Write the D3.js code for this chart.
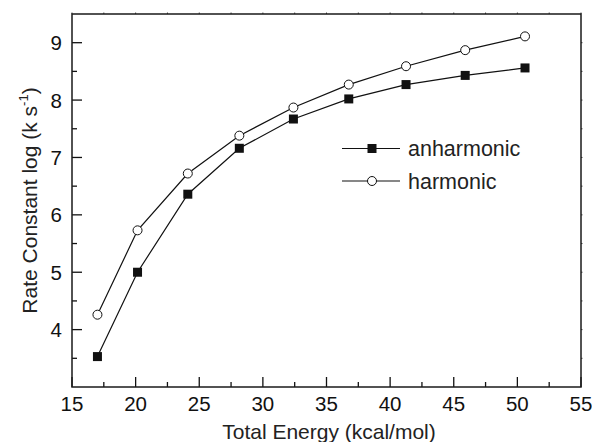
<!DOCTYPE html>
<html>
<head>
<meta charset="utf-8">
<script src="https://cdn.jsdelivr.net/npm/d3@7/dist/d3.min.js"></script>
<style>
  html, body { margin: 0; padding: 0; background: #fff; }
  svg { display: block; font-family: "Liberation Sans", Arial, sans-serif; }
</style>
</head>
<body>
<svg id="chart" width="592" height="442"></svg>
<script>
// Data
const energy = [17.0, 20.15, 24.1, 28.15, 32.4, 36.75, 41.25, 45.9, 50.6];
const anharmonic = [3.53, 5.0, 6.36, 7.16, 7.67, 8.02, 8.27, 8.43, 8.56];
const harmonic = [4.26, 5.73, 6.72, 7.38, 7.87, 8.27, 8.59, 8.87, 9.11];
const xTicks = [15, 20, 25, 30, 35, 40, 45, 50, 55];
const yTicks = [4, 5, 6, 7, 8, 9];
const xMinor = [17.5, 22.5, 27.5, 32.5, 37.5, 42.5, 47.5, 52.5];
const yMinor = [3.5, 4.5, 5.5, 6.5, 7.5, 8.5];
const seriesNames = ["anharmonic", "harmonic"];

const svg = d3.select("#chart");
const m = { left: 72, top: 14, right: 581, bottom: 387 };

const x = d3.scaleLinear().domain([15, 55]).range([m.left, m.right]);
const y = d3.scaleLinear().domain([3, 9.5]).range([m.bottom, m.top]);

const ink = "#111";
const fs = 20.5;

const axes = svg.append("g").attr("class", "axes");

// Bottom ticks (inward)
axes.selectAll("line.xmaj").data(xTicks).join("line").attr("class", "xmaj")
  .attr("x1", d => x(d)).attr("x2", d => x(d))
  .attr("y1", m.bottom).attr("y2", m.bottom - 10)
  .attr("stroke", ink).attr("stroke-width", 1.3);
axes.selectAll("line.xmin").data(xMinor).join("line").attr("class", "xmin")
  .attr("x1", d => x(d)).attr("x2", d => x(d))
  .attr("y1", m.bottom).attr("y2", m.bottom - 5)
  .attr("stroke", ink).attr("stroke-width", 1.3);
axes.selectAll("text.xlab").data(xTicks).join("text").attr("class", "xlab")
  .attr("x", d => x(d)).attr("y", m.bottom + 24)
  .attr("text-anchor", "middle").attr("font-size", fs).attr("fill", ink)
  .text(d => d);

// Left ticks (inward)
axes.selectAll("line.ymaj").data(yTicks).join("line").attr("class", "ymaj")
  .attr("x1", m.left).attr("x2", m.left + 10)
  .attr("y1", d => y(d)).attr("y2", d => y(d))
  .attr("stroke", ink).attr("stroke-width", 1.3);
axes.selectAll("line.ymin").data(yMinor).join("line").attr("class", "ymin")
  .attr("x1", m.left).attr("x2", m.left + 5)
  .attr("y1", d => y(d)).attr("y2", d => y(d))
  .attr("stroke", ink).attr("stroke-width", 1.3);
axes.selectAll("text.ylab").data(yTicks).join("text").attr("class", "ylab")
  .attr("x", m.left - 10).attr("y", d => y(d) + 7.5)
  .attr("text-anchor", "end").attr("font-size", fs).attr("fill", ink)
  .text(d => d);

// Top / right tiny ticks
axes.selectAll("line.xtop").data(xTicks.concat(xMinor)).join("line").attr("class", "xtop")
  .attr("x1", d => x(d)).attr("x2", d => x(d))
  .attr("y1", m.top).attr("y2", m.top - 1.5)
  .attr("stroke", "#444");
axes.selectAll("line.yright").data(yTicks.concat(yMinor)).join("line").attr("class", "yright")
  .attr("x1", m.right).attr("x2", m.right + 1.5)
  .attr("y1", d => y(d)).attr("y2", d => y(d))
  .attr("stroke", "#444");

// Frame
svg.append("rect")
  .attr("x", m.left).attr("y", m.top)
  .attr("width", m.right - m.left).attr("height", m.bottom - m.top)
  .attr("fill", "none").attr("stroke", "#1a1a1a").attr("stroke-width", 1.5);

// Lines
const line = d3.line().x((d, i) => x(energy[i])).y(d => y(d));
[anharmonic, harmonic].forEach(s => {
  svg.append("path").datum(s).attr("d", line)
    .attr("fill", "none").attr("stroke", ink).attr("stroke-width", 1.2);
});

// Markers
const sq = 9;
svg.append("g").selectAll("rect").data(anharmonic).join("rect")
  .attr("x", (d, i) => x(energy[i]) - sq / 2)
  .attr("y", d => y(d) - sq / 2)
  .attr("width", sq).attr("height", sq)
  .attr("fill", ink);
svg.append("g").selectAll("circle").data(harmonic).join("circle")
  .attr("cx", (d, i) => x(energy[i]))
  .attr("cy", d => y(d))
  .attr("r", 4.5)
  .attr("fill", "#fff").attr("stroke", ink).attr("stroke-width", 1);

// Legend
const legY = [148.5, 181];
seriesNames.forEach((name, i) => {
  const g = svg.append("g");
  g.append("line").attr("x1", 342).attr("x2", 400).attr("y1", legY[i]).attr("y2", legY[i])
    .attr("stroke", ink).attr("stroke-width", 1.2);
  if (i === 0) {
    g.append("rect").attr("x", 372 - sq / 2).attr("y", legY[i] - sq / 2)
      .attr("width", sq).attr("height", sq).attr("fill", ink);
  } else {
    g.append("circle").attr("cx", 372).attr("cy", legY[i]).attr("r", 4.5)
      .attr("fill", "#fff").attr("stroke", ink).attr("stroke-width", 1);
  }
  g.append("text").attr("x", 408).attr("y", legY[i] + 7.5)
    .attr("font-size", 21.5).attr("fill", "#222").text(name);
});

// Axis titles
svg.append("text").attr("x", 329).attr("y", 439)
  .attr("text-anchor", "middle").attr("font-size", 21).attr("fill", "#222")
  .text("Total Energy (kcal/mol)");

const yt = svg.append("text")
  .attr("transform", `translate(37,${(m.top + m.bottom) / 2}) rotate(-90)`)
  .attr("text-anchor", "middle").attr("font-size", 21).attr("fill", "#222");
yt.append("tspan").text("Rate Constant log (k s");
yt.append("tspan").attr("font-size", 13).attr("dy", -9).text("-1");
yt.append("tspan").attr("dy", 9).text(")");
</script>
</body>
</html>
